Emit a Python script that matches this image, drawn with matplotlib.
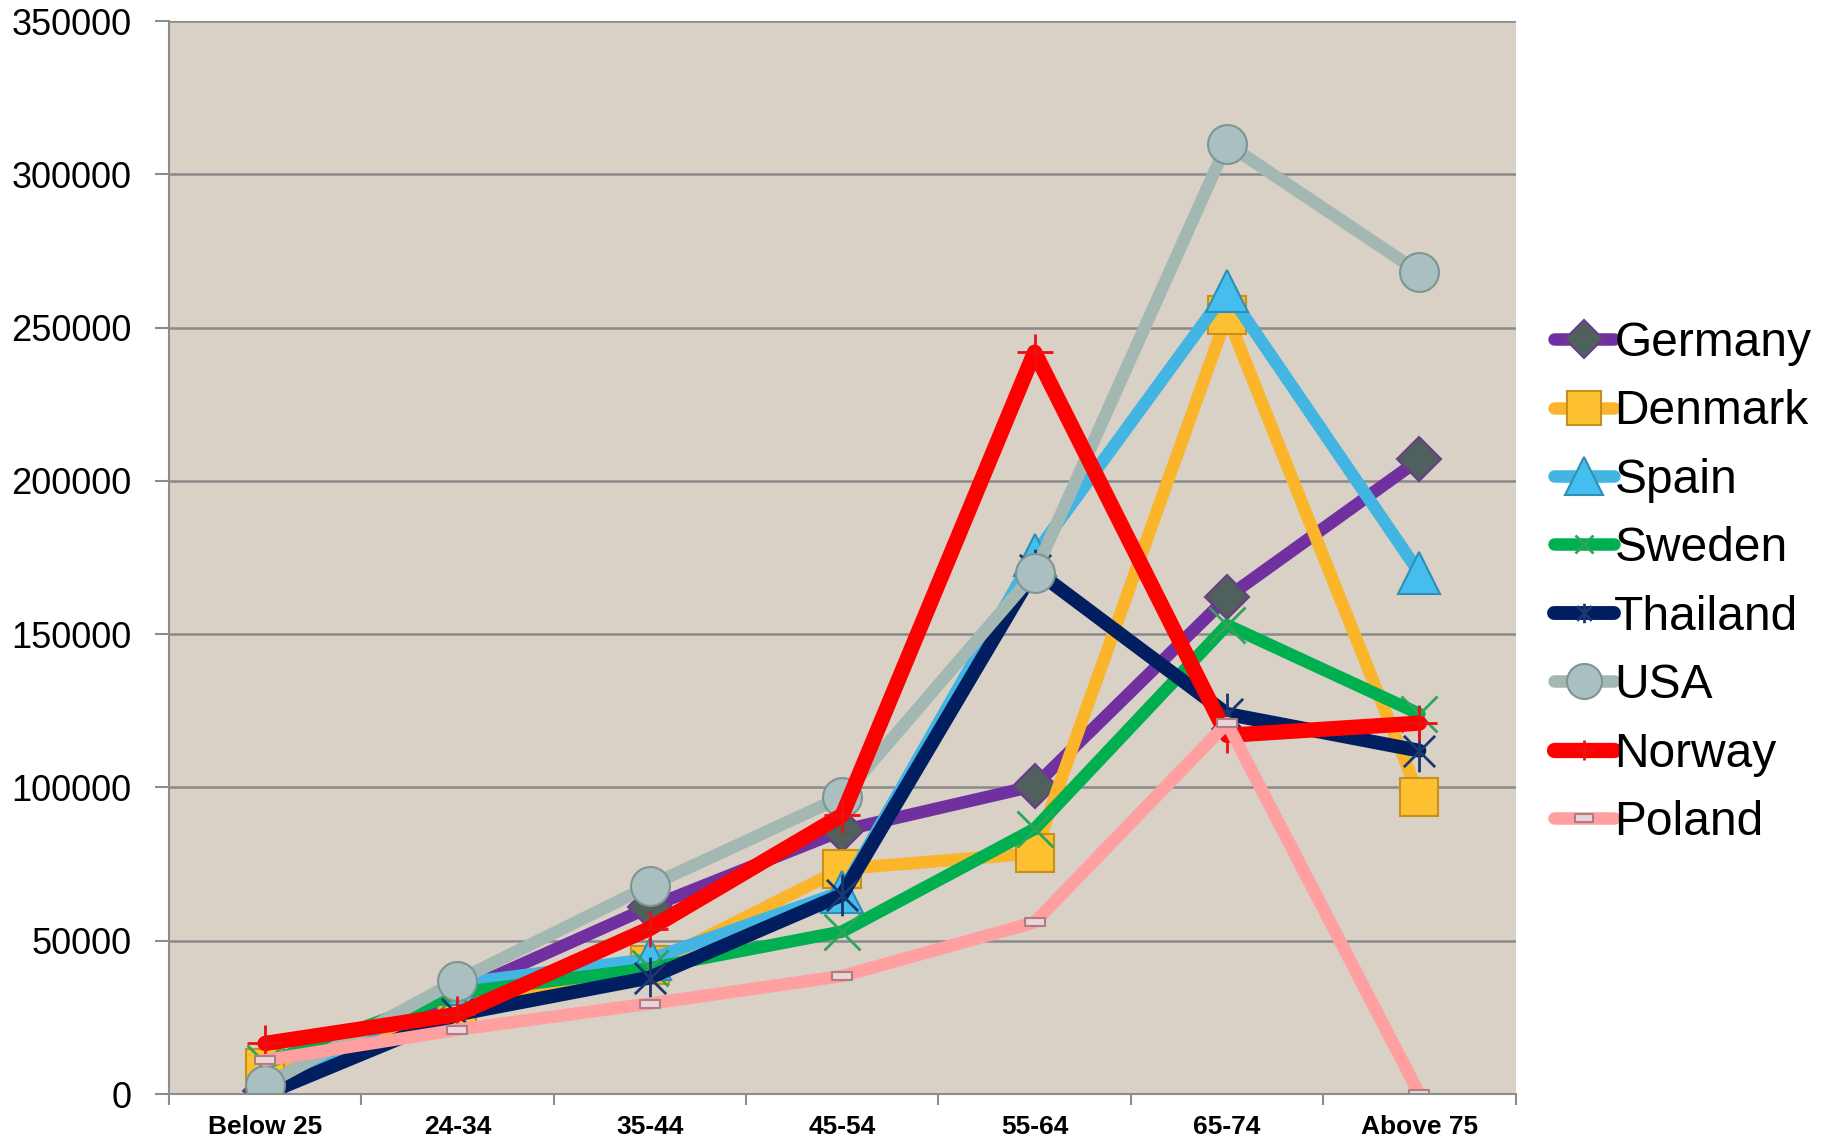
import matplotlib
matplotlib.use("Agg")
import matplotlib.pyplot as plt
from matplotlib.path import Path
import numpy as np

plt.rcParams['font.family'] = ['Liberation Sans', 'DejaVu Sans']

categories = ["Below 25", "24-34", "35-44", "45-54", "55-64", "65-74", "Above 75"]

germany  = [1000, 33000, 61000, 86000, 100500, 162000, 207000]
denmark  = [8500, 26500, 42000, 73500, 78500, 254000, 97000]
spain    = [500, 36000, 44000, 66000, 176000, 262000, 170000]
sweden   = [10000, 33000, 41000, 53000, 86500, 153000, 124000]
thailand = [0, 26000, 38000, 65000, 171000, 124000, 112000]
usa      = [3000, 37000, 68000, 97000, 170000, 310000, 268000]
norway   = [16500, 26000, 54000, 91000, 242000, 117000, 121000]
poland   = [11000, 21000, 29500, 38500, 56000, 121000, 0]

y_ticks = [0, 50000, 100000, 150000, 200000, 250000, 300000, 350000]

# small flat rectangle marker
rect_marker = Path([(-1, -0.42), (1, -0.42), (1, 0.42), (-1, 0.42), (-1, -0.42)],
                   [Path.MOVETO, Path.LINETO, Path.LINETO, Path.LINETO, Path.CLOSEPOLY])

# line asterisk: vertical stroke plus two 45-degree diagonals
ast_marker = Path([(0, -1), (0, 1), (-0.75, -0.75), (0.75, 0.75), (-0.75, 0.75), (0.75, -0.75)],
                  [Path.MOVETO, Path.LINETO, Path.MOVETO, Path.LINETO, Path.MOVETO, Path.LINETO])

series = [
    ("Germany",  germany,  dict(color="#7030a0", marker="D", ms=22, mfc="#4f605d", mec="#6a3a8c", mew=1.5, lw=9)),
    ("Denmark",  denmark,  dict(color="#fbb52b", marker="s", ms=27, mfc="#fcc030", mec="#c8901a", mew=1.5, lw=9)),
    ("Spain",    spain,    dict(color="#43b5e3", marker="^", ms=30, mfc="#45bdee", mec="#2e8fb5", mew=1.5, lw=9)),
    ("Sweden",   sweden,   dict(color="#00b050", marker="x", ms=26, mfc="none", mec="#2fa55a", mew=2, lw=9)),
    ("Thailand", thailand, dict(color="#001e60", marker=ast_marker, ms=30, mfc="none", mec="#1a3770", mew=2, lw=10)),
    ("USA",      usa,      dict(color="#a4b8b3", marker="o", ms=28, mfc="#a9bfc0", mec="#7f9494", mew=1.5, lw=9)),
    ("Norway",   norway,   dict(color="#ff0000", marker="+", ms=26, mec="#ee1010", mew=2, lw=11)),
    ("Poland",   poland,   dict(color="#ff9f9f", marker=rect_marker, ms=14, mfc="#ead5d8", mec="#b07c84", mew=1.5, lw=9)),
]

# legend marker sizes for the thin line-style markers
legend_ms = {"Sweden": 13, "Thailand": 14, "Norway": 14}

fig = plt.figure(figsize=(18.26, 11.42), dpi=100)
ax = fig.add_axes([0.0925, 0.042, 0.7375, 0.9395])
ax.set_facecolor("#d9d0c6")

x = np.arange(len(categories))
for name, vals, st in series:
    ax.plot(x, vals, label=name, solid_capstyle="round", solid_joinstyle="round", **st)

ax.set_xlim(-0.5, len(categories) - 0.5)
ax.set_ylim(0, 350000)
ax.set_yticks(y_ticks)
ax.set_yticklabels([str(v) for v in y_ticks], fontsize=26)
ax.set_xticks(x)
ax.set_xticklabels(categories, fontsize=19, fontweight="bold")
ax.set_xticks(np.arange(-0.5, len(categories), 1.0), minor=True)
ax.tick_params(axis="x", which="major", length=0, pad=15)
ax.tick_params(axis="x", which="minor", length=8, width=1.5, color="#8c8c8c", direction="out")
ax.tick_params(axis="y", length=10, width=1.5, color="#8c8c8c", direction="out", pad=17)

ax.yaxis.grid(True, color="#8a8a8a", lw=1.8)
ax.set_axisbelow(True)
for s in ("top", "right"):
    ax.spines[s].set_visible(False)
for s in ("left", "bottom"):
    ax.spines[s].set_color("#8c8c8c")
    ax.spines[s].set_linewidth(1.5)

leg = fig.legend(loc="center left", bbox_to_anchor=(0.851, 0.4895), frameon=False,
                 fontsize=34.5, handlelength=1.26, handletextpad=0.0,
                 labelspacing=0.49, borderaxespad=0.0, borderpad=0.0, markerscale=0.9)
for h, t in zip(leg.legend_handles, leg.get_texts()):
    if t.get_text() in legend_ms:
        h.set_markersize(legend_ms[t.get_text()])

fig.savefig("out.png", dpi=100)
